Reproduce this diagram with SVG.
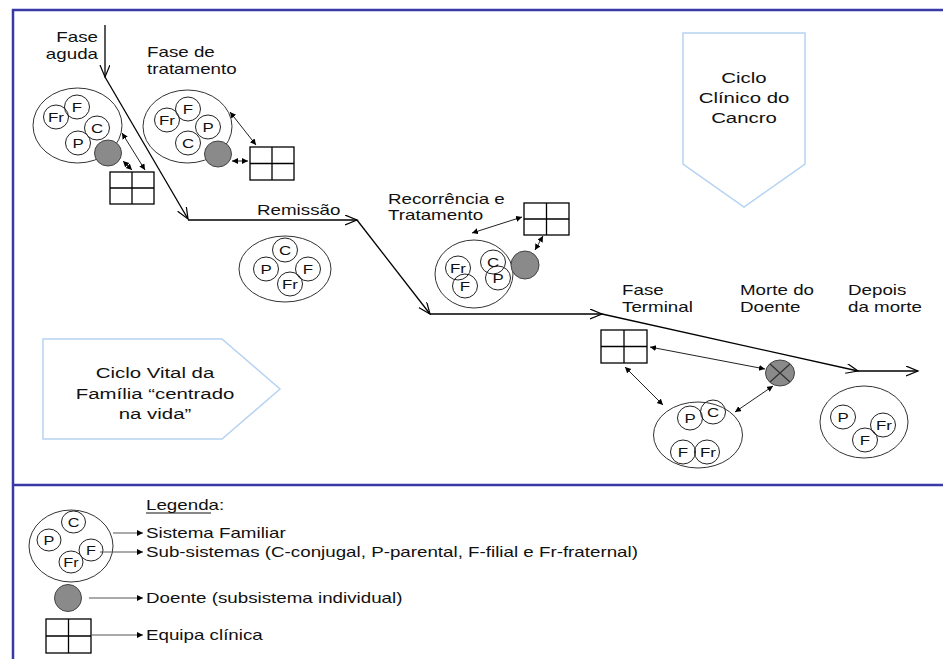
<svg xmlns="http://www.w3.org/2000/svg" width="943" height="659" viewBox="0 0 943 659">
<defs>
<style>
.t{font-family:"Liberation Sans",Arial,Helvetica,sans-serif;font-size:14px;fill:#111}
.c{text-anchor:middle}
.e{text-anchor:end}
.s{font-family:"Liberation Sans",Arial,Helvetica,sans-serif;font-size:13px;fill:#111;text-anchor:middle}
.big{fill:none;stroke:#333;stroke-width:1}
.sm{fill:none;stroke:#222;stroke-width:1}
.pt{fill:#8a8a8a;stroke:#444;stroke-width:1}
.box{fill:#fff;stroke:#000;stroke-width:1.3}
.gl{fill:none;stroke:#000;stroke-width:1.3}
.tl{fill:none;stroke:#000;stroke-width:1.3;marker-end:url(#open)}
.cn{fill:none;stroke:#222;stroke-width:1;marker-start:url(#tip);marker-end:url(#tip)}
.lg{fill:none;stroke:#555;stroke-width:1;marker-end:url(#tip)}
.frame{stroke:#3a3aa6;stroke-width:2.5;fill:none}
.pent{fill:#fff;stroke:#b6d3f2;stroke-width:1.5}
</style>
<marker id="open" markerWidth="14" markerHeight="12" refX="12" refY="5" orient="auto" markerUnits="userSpaceOnUse"><path d="M0,0 L12,5 L0,10" fill="none" stroke="#000" stroke-width="1.2"/></marker>
<marker id="tip" markerWidth="8" markerHeight="8" refX="6" refY="3" orient="auto-start-reverse" markerUnits="userSpaceOnUse"><path d="M0,0 L6,3 L0,6 z" fill="#000"/></marker>
</defs>
<rect width="943" height="659" fill="#fff"/>
<g id="frame">
<path class="frame" d="M13,9V659M12,10H943M12,485H943"/>
</g>
<g id="ciclo-clinico">
<path class="pent" d="M683,33H805V164L744,207L683,164Z"/>
<text class="t c" style="font-size:15px" transform="translate(744,83) scale(1.36,1)">Ciclo</text>
<text class="t c" style="font-size:15px" transform="translate(744,103) scale(1.36,1)">Clínico do</text>
<text class="t c" style="font-size:15px" transform="translate(744,123) scale(1.36,1)">Cancro</text>
</g>
<g id="ciclo-vital">
<path class="pent" d="M43,339H222L280,389L222,439H43Z"/>
<text class="t c" style="font-size:15px" transform="translate(155,378) scale(1.36,1)">Ciclo Vital da</text>
<text class="t c" style="font-size:15px" transform="translate(155,399) scale(1.36,1)">Família “centrado</text>
<text class="t c" style="font-size:15px" transform="translate(155,419) scale(1.36,1)">na vida”</text>
</g>
<g id="labels">
<text class="t e" transform="translate(98,42) scale(1.34,1)">Fase</text>
<text class="t e" transform="translate(98,59) scale(1.34,1)">aguda</text>
<text class="t" transform="translate(147,57) scale(1.34,1)">Fase de</text>
<text class="t" transform="translate(147,74) scale(1.34,1)">tratamento</text>
<text class="t" transform="translate(257,215) scale(1.34,1)">Remissão</text>
<text class="t" transform="translate(388,204) scale(1.34,1)">Recorrência e</text>
<text class="t" transform="translate(388,220) scale(1.34,1)">Tratamento</text>
<text class="t" transform="translate(622,295) scale(1.34,1)">Fase</text>
<text class="t" transform="translate(622,312) scale(1.34,1)">Terminal</text>
<text class="t" transform="translate(740,295) scale(1.34,1)">Morte do</text>
<text class="t" transform="translate(740,312) scale(1.34,1)">Doente</text>
<text class="t" transform="translate(848,295) scale(1.34,1)">Depois</text>
<text class="t" transform="translate(848,312) scale(1.34,1)">da morte</text>
</g>
<g id="fam-aguda">
<ellipse class="big" cx="77.5" cy="125.5" rx="44.5" ry="37.5"/>
<ellipse class="sm" cx="77" cy="107" rx="12.5" ry="12"/>
<ellipse class="sm" cx="56" cy="117" rx="12.5" ry="12"/>
<ellipse class="sm" cx="97" cy="128" rx="12.5" ry="12"/>
<ellipse class="sm" cx="78" cy="143" rx="12.5" ry="12"/>
<text class="s" transform="translate(77,112) scale(1.3,1)">F</text>
<text class="s" transform="translate(56,122) scale(1.3,1)">Fr</text>
<text class="s" transform="translate(97,133) scale(1.3,1)">C</text>
<text class="s" transform="translate(78,148) scale(1.3,1)">P</text>
</g>
<g id="pt-aguda"><ellipse class="pt" cx="108" cy="153" rx="13.5" ry="13"/></g>
<g id="team-aguda"><rect class="box" x="110" y="172" width="44" height="32"/><path class="gl" d="M132,172V204M110,188H154"/></g>
<g id="fam-trat">
<ellipse class="big" cx="187.5" cy="126.5" rx="44.5" ry="36.5"/>
<ellipse class="sm" cx="188" cy="109" rx="12.5" ry="12"/>
<ellipse class="sm" cx="167" cy="120" rx="12.5" ry="12"/>
<ellipse class="sm" cx="208" cy="127" rx="12.5" ry="12"/>
<ellipse class="sm" cx="188" cy="143" rx="12.5" ry="12"/>
<text class="s" transform="translate(188,114) scale(1.3,1)">F</text>
<text class="s" transform="translate(167,125) scale(1.3,1)">Fr</text>
<text class="s" transform="translate(208,132) scale(1.3,1)">P</text>
<text class="s" transform="translate(188,148) scale(1.3,1)">C</text>
</g>
<g id="pt-trat"><ellipse class="pt" cx="218" cy="154" rx="13.5" ry="13"/></g>
<g id="team-trat"><rect class="box" x="250" y="147" width="44" height="33"/><path class="gl" d="M272,147V180M250,163.5H294"/></g>
<g id="fam-remissao">
<ellipse class="big" cx="285" cy="269" rx="46" ry="33"/>
<ellipse class="sm" cx="285" cy="250" rx="12.5" ry="12"/>
<ellipse class="sm" cx="266" cy="269" rx="12.5" ry="12"/>
<ellipse class="sm" cx="308" cy="269" rx="12.5" ry="12"/>
<ellipse class="sm" cx="290" cy="284" rx="12.5" ry="12"/>
<text class="s" transform="translate(285,255) scale(1.3,1)">C</text>
<text class="s" transform="translate(266,274) scale(1.3,1)">P</text>
<text class="s" transform="translate(308,274) scale(1.3,1)">F</text>
<text class="s" transform="translate(290,289) scale(1.3,1)">Fr</text>
</g>
<g id="fam-recorr">
<ellipse class="big" cx="474" cy="274" rx="39" ry="34"/>
<ellipse class="sm" cx="458" cy="268" rx="12.5" ry="12"/>
<ellipse class="sm" cx="493" cy="262" rx="12.5" ry="12"/>
<ellipse class="sm" cx="465" cy="286" rx="12.5" ry="12"/>
<ellipse class="sm" cx="498" cy="278" rx="12.5" ry="12"/>
<text class="s" transform="translate(458,273) scale(1.3,1)">Fr</text>
<text class="s" transform="translate(493,267) scale(1.3,1)">C</text>
<text class="s" transform="translate(465,291) scale(1.3,1)">F</text>
<text class="s" transform="translate(498,283) scale(1.3,1)">P</text>
</g>
<g id="pt-recorr"><ellipse class="pt" cx="525" cy="265" rx="14" ry="14"/></g>
<g id="team-recorr"><rect class="box" x="524" y="203" width="45" height="32"/><path class="gl" d="M546.5,203V235M524,219H569"/></g>
<g id="team-terminal"><rect class="box" x="601" y="330" width="46" height="33"/><path class="gl" d="M624,330V363M601,346.5H647"/></g>
<g id="pt-morte">
<ellipse class="pt" cx="780" cy="373" rx="14.5" ry="13"/>
<path d="M770,364L790,382M770,382L790,364" stroke="#333" stroke-width="1.2"/>
</g>
<g id="fam-terminal">
<ellipse class="big" cx="698" cy="435" rx="44.5" ry="33"/>
<ellipse class="sm" cx="690" cy="418" rx="12.5" ry="12"/>
<ellipse class="sm" cx="713" cy="412" rx="12.5" ry="12"/>
<ellipse class="sm" cx="683" cy="452" rx="12.5" ry="12"/>
<ellipse class="sm" cx="707" cy="452" rx="12.5" ry="12"/>
<text class="s" transform="translate(690,423) scale(1.3,1)">P</text>
<text class="s" transform="translate(713,417) scale(1.3,1)">C</text>
<text class="s" transform="translate(683,457) scale(1.3,1)">F</text>
<text class="s" transform="translate(708,457) scale(1.3,1)">Fr</text>
</g>
<g id="fam-depois">
<ellipse class="big" cx="864" cy="422" rx="44" ry="36"/>
<ellipse class="sm" cx="843" cy="417" rx="12.5" ry="12"/>
<ellipse class="sm" cx="883" cy="425" rx="12.5" ry="12"/>
<ellipse class="sm" cx="865" cy="440" rx="12.5" ry="12"/>
<text class="s" transform="translate(843,422) scale(1.3,1)">P</text>
<text class="s" transform="translate(884,430) scale(1.3,1)">Fr</text>
<text class="s" transform="translate(865,445) scale(1.3,1)">F</text>
</g>
<g id="connectors">
<path class="tl" d="M105,25V77"/>
<path class="tl" d="M105,77L188,219"/>
<path class="tl" d="M188,220H357"/>
<path class="tl" d="M357,220L430,314"/>
<path class="tl" d="M430,314H602"/>
<path class="tl" d="M602,314L858,371"/>
<path class="tl" d="M858,371H918"/>
<path class="cn" d="M122,133L145,170"/>
<path class="cn" d="M123,161L132,170"/>
<path class="cn" d="M230,112L256,145"/>
<path class="cn" d="M232,161L248,161"/>
<path class="cn" d="M472,233L522,217"/>
<path class="cn" d="M535,250L543,236"/>
<path class="cn" d="M650,347L765,369"/>
<path class="cn" d="M625,367L663,405"/>
<path class="cn" d="M735,412L773,386"/>
</g>
<g id="legend">
<text class="t" transform="translate(146,510) scale(1.34,1)">Legenda:</text>
<path d="M146,513H211" stroke="#111" stroke-width="1"/>
<g id="leg-fam">
<ellipse class="big" cx="71" cy="546" rx="42" ry="36"/>
<ellipse class="sm" cx="73.5" cy="522" rx="12" ry="11"/>
<ellipse class="sm" cx="49" cy="540" rx="12" ry="11"/>
<ellipse class="sm" cx="91" cy="550" rx="12" ry="11"/>
<ellipse class="sm" cx="71" cy="562" rx="12" ry="11"/>
<text class="s" transform="translate(73.5,527) scale(1.25,1)">C</text>
<text class="s" transform="translate(49,545) scale(1.25,1)">P</text>
<text class="s" transform="translate(91,555) scale(1.25,1)">F</text>
<text class="s" transform="translate(71,567) scale(1.25,1)">Fr</text>
</g>
<g id="leg-pt"><ellipse class="pt" cx="68" cy="598" rx="13.5" ry="13.5"/></g>
<g id="leg-team"><rect class="box" x="46" y="619" width="45" height="34"/><path class="gl" d="M68.5,619V653M46,636H91"/></g>
<path class="lg" d="M113,533H143"/>
<path class="lg" d="M100,552H143"/>
<path class="lg" d="M89,598H143"/>
<path class="lg" d="M91,635H143"/>
<text class="t" transform="translate(146,538) scale(1.34,1)">Sistema Familiar</text>
<text class="t" transform="translate(146,557) scale(1.34,1)">Sub-sistemas (C-conjugal, P-parental, F-filial e Fr-fraternal)</text>
<text class="t" transform="translate(146,603) scale(1.34,1)">Doente (subsistema individual)</text>
<text class="t" transform="translate(146,640) scale(1.34,1)">Equipa clínica</text>
</g>
</svg>
